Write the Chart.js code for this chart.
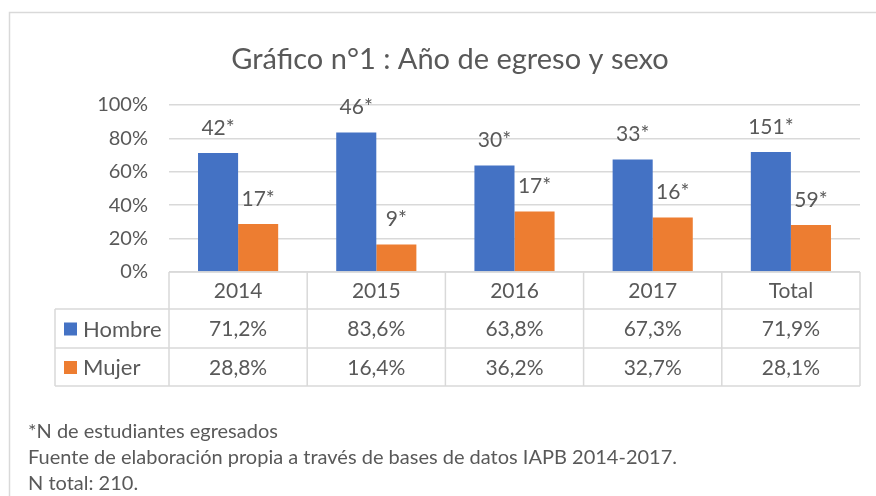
<!DOCTYPE html>
<html><head><meta charset="utf-8">
<script src="https://cdn.jsdelivr.net/npm/chart.js@4"></script>
<style>html,body{margin:0;padding:0;background:#fff}#wrap{width:876px;height:496px}</style>
</head><body><div id="wrap"><canvas id="c" width="876" height="496"></canvas></div>
<script>
const categories = ['2014', '2015', '2016', '2017', 'Total'];
const hombre = [71.2, 83.6, 63.8, 67.3, 71.9];
const mujer = [28.8, 16.4, 36.2, 32.7, 28.1];
const hombreN = [42, 46, 30, 33, 151];
const mujerN = [17, 9, 17, 16, 59];
const seriesNames = ['Hombre', 'Mujer'];
const yTickStep = 20;
const titleText = 'Gráfico n°1 : Año de egreso y sexo';
const notes = ['*N de estudiantes egresados', 'Fuente de elaboración propia a través de bases de datos IAPB 2014-2017.', 'N total: 210.'];

const FONT = 'Lato';
const TXT = '#595959';
const GRID = '#d9d9d9';
const COLORS = ['#4472C4', '#ED7D31'];

const framePlugin = {
  id: 'frame',
  beforeDraw(chart) {
    const ctx = chart.ctx;
    ctx.save();
    ctx.strokeStyle = GRID;
    ctx.lineWidth = 1.5;
    ctx.beginPath();
    ctx.moveTo(9.5, 496); ctx.lineTo(9.5, 12.5); ctx.lineTo(876, 12.5);
    ctx.stroke();
    ctx.font = '29px ' + FONT;
    ctx.fillStyle = TXT;
    ctx.textAlign = 'center';
    ctx.textBaseline = 'middle';
    ctx.fillText(titleText, 450, 60);
    ctx.restore();
  }
};

const labelPlugin = {
  id: 'barLabels',
  afterDatasetsDraw(chart) {
    const ctx = chart.ctx;
    const counts = [hombreN, mujerN];
    ctx.save();
    ctx.font = '21px ' + FONT;
    ctx.fillStyle = TXT;
    ctx.textAlign = 'center';
    ctx.textBaseline = 'middle';
    chart.data.datasets.forEach((ds, di) => {
      chart.getDatasetMeta(di).data.forEach((el, i) => {
        ctx.fillText(counts[di][i] + '*', el.x, el.y - 25);
      });
    });
    ctx.restore();
  }
};

const tablePlugin = {
  id: 'dataTable',
  afterDraw(chart) {
    const ctx = chart.ctx;
    const a = chart.chartArea;
    const n = categories.length;
    const colW = (a.right - a.left) / n;
    const legLeft = 55;
    const r0 = a.bottom, r1 = r0 + 37, r2 = r1 + 39, r3 = r2 + 38;
    ctx.save();
    ctx.strokeStyle = GRID;
    ctx.lineWidth = 1.5;
    ctx.beginPath();
    ctx.moveTo(a.left, r0); ctx.lineTo(a.right, r0);
    [r1, r2, r3].forEach(y => { ctx.moveTo(legLeft, y); ctx.lineTo(a.right, y); });
    for (let i = 0; i <= n; i++) {
      const x = a.left + i * colW;
      ctx.moveTo(x, r0); ctx.lineTo(x, r3);
    }
    ctx.moveTo(legLeft, r1); ctx.lineTo(legLeft, r3);
    ctx.stroke();

    ctx.font = '21px ' + FONT;
    ctx.fillStyle = TXT;
    ctx.textAlign = 'center';
    ctx.textBaseline = 'middle';
    const xs = chart.scales.x;
    categories.forEach((c, i) => {
      const cx = xs.getPixelForValue(i);
      ctx.fillText(c, cx, (r0 + r1) / 2 + 1);
      ctx.fillText(hombre[i].toFixed(1).replace('.', ',') + '%', cx, (r1 + r2) / 2 + 1);
      ctx.fillText(mujer[i].toFixed(1).replace('.', ',') + '%', cx, (r2 + r3) / 2 + 1);
    });
    const rowsY = [(r1 + r2) / 2, (r2 + r3) / 2];
    ctx.font = '22px ' + FONT;
    seriesNames.forEach((s, k) => {
      ctx.fillStyle = COLORS[k];
      ctx.fillRect(64, rowsY[k] - 6, 13, 13);
      ctx.fillStyle = TXT;
      ctx.textAlign = 'left';
      ctx.fillText(s, 83, rowsY[k] + 1);
    });

    ctx.font = '20px ' + FONT;
    ctx.textAlign = 'left';
    notes.forEach((t, i) => ctx.fillText(t, 28, 432 + i * 26));
    ctx.restore();
  }
};

new Chart(document.getElementById('c'), {
  type: 'bar',
  data: {
    labels: categories,
    datasets: [
      { label: seriesNames[0], data: hombre, backgroundColor: COLORS[0], categoryPercentage: 0.58, barPercentage: 1.0 },
      { label: seriesNames[1], data: mujer, backgroundColor: COLORS[1], categoryPercentage: 0.58, barPercentage: 1.0 }
    ]
  },
  options: {
    responsive: false,
    animation: false,
    devicePixelRatio: 1,
    layout: { padding: { left: 0, right: 16, top: 105, bottom: 224 } },
    plugins: {
      legend: { display: false },
      tooltip: { enabled: false },
      title: { display: false }
    },
    scales: {
      x: { display: false },
      y: {
        min: 0, max: 100,
        afterFit(s) { s.width = 169; },
        ticks: { stepSize: yTickStep, callback: v => v + '%', color: TXT, font: { family: FONT, size: 20 }, padding: 21 },
        grid: { color: GRID, lineWidth: 1.5, drawTicks: false },
        border: { display: false }
      }
    }
  },
  plugins: [framePlugin, labelPlugin, tablePlugin]
});
</script>
</body></html>
